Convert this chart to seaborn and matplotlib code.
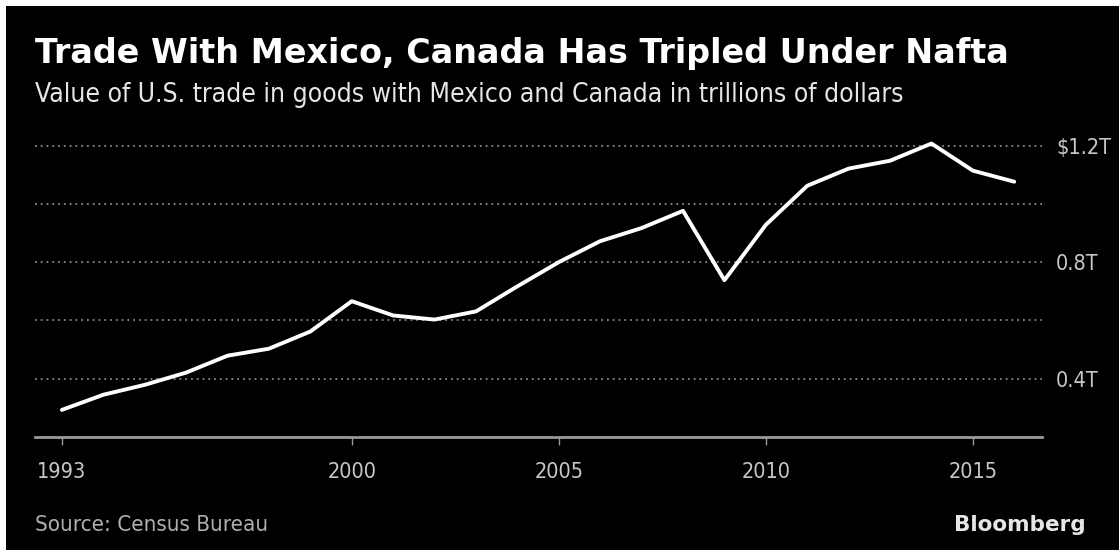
import numpy as np
import pandas as pd
import matplotlib.pyplot as plt
import matplotlib.patches as mpatches
import seaborn as sns

# ── Data (trillions of dollars) ───────────────────────────────────────────────
years = list(range(1993, 2017))
trade = [0.293, 0.345, 0.379, 0.421, 0.479, 0.503, 0.562, 0.666,
         0.617, 0.603, 0.631, 0.717, 0.800, 0.872, 0.917, 0.976,
         0.738, 0.928, 1.062, 1.121, 1.148, 1.207, 1.114, 1.076]
x_ticks = [1993, 2000, 2005, 2010, 2015]
y_ticks = [0.4, 0.8, 1.2]
y_labels = ["0.4T", "0.8T", "$1.2T"]
grid_levels = [0.4, 0.6, 0.8, 1.0, 1.2]

df = pd.DataFrame({"year": years, "trade": trade})

sns.set_style("dark")
plt.rcParams["font.family"] = ["DejaVu Sans"]

W, H = 1119, 550
fig = plt.figure(figsize=(W / 100, H / 100), dpi=100)
fig.patch.set_facecolor("white")
# black panel with a thin white margin on top / left
fig.add_artist(mpatches.Rectangle((6 / W, 0), 1, 1 - 6 / H,
                                  transform=fig.transFigure,
                                  facecolor="black", edgecolor="none", zorder=0))

left, right = 35 / W, 1042 / W
bottom, top = 1 - 437 / H, 1 - 131 / H
ax = fig.add_axes([left, bottom, right - left, top - bottom])
ax.set_facecolor("black")

for g in grid_levels:
    ax.axhline(g, color="#8a8a8a", lw=1.3, ls=(0, (1, 2.2)), zorder=1)

sns.lineplot(data=df, x="year", y="trade", color="white", lw=2.8,
             ax=ax, zorder=3)

ax.set_xlim(1992.35, 2016.67)
ax.set_ylim(0.2, 1.25)
ax.grid(False)
for s in ["top", "right", "left"]:
    ax.spines[s].set_visible(False)
ax.spines["bottom"].set_color("#9a9a9a")
ax.spines["bottom"].set_linewidth(2)

ax.set_xticks(x_ticks)
ax.set_xticklabels([str(t) for t in x_ticks], fontsize=15.5, color="#c8c8c8",
                   fontstretch="condensed")
ax.tick_params(axis="x", length=6, width=1, color="#9a9a9a", pad=12,
               direction="out", bottom=True)

ax.yaxis.tick_right()
ax.set_yticks(y_ticks)
ax.set_yticklabels(y_labels, fontsize=15.5, color="#c8c8c8",
                   fontstretch="condensed")
ax.tick_params(axis="y", length=0, pad=10)
for lbl in ax.get_yticklabels():
    lbl.set_horizontalalignment("left")
ax.set_xlabel("")
ax.set_ylabel("")

fig.text(35 / W, 1 - 63 / H, "Trade With Mexico, Canada Has Tripled Under Nafta",
         fontsize=24, fontweight="bold", color="white", va="baseline")
fig.text(35 / W, 1 - 102 / H,
         "Value of U.S. trade in goods with Mexico and Canada in trillions of dollars",
         fontsize=19, color="#e6e6e6", va="baseline", fontstretch="condensed")
fig.text(35 / W, 1 - 531 / H, "Source: Census Bureau", fontsize=16,
         color="#b0b0b0", va="baseline", fontstretch="condensed")
fig.text(1086 / W, 1 - 531 / H, "Bloomberg", fontsize=15.5, fontweight="bold",
         color="#e6e6e6", va="baseline", ha="right")

fig.savefig("out.png", dpi=100, facecolor=fig.get_facecolor())
